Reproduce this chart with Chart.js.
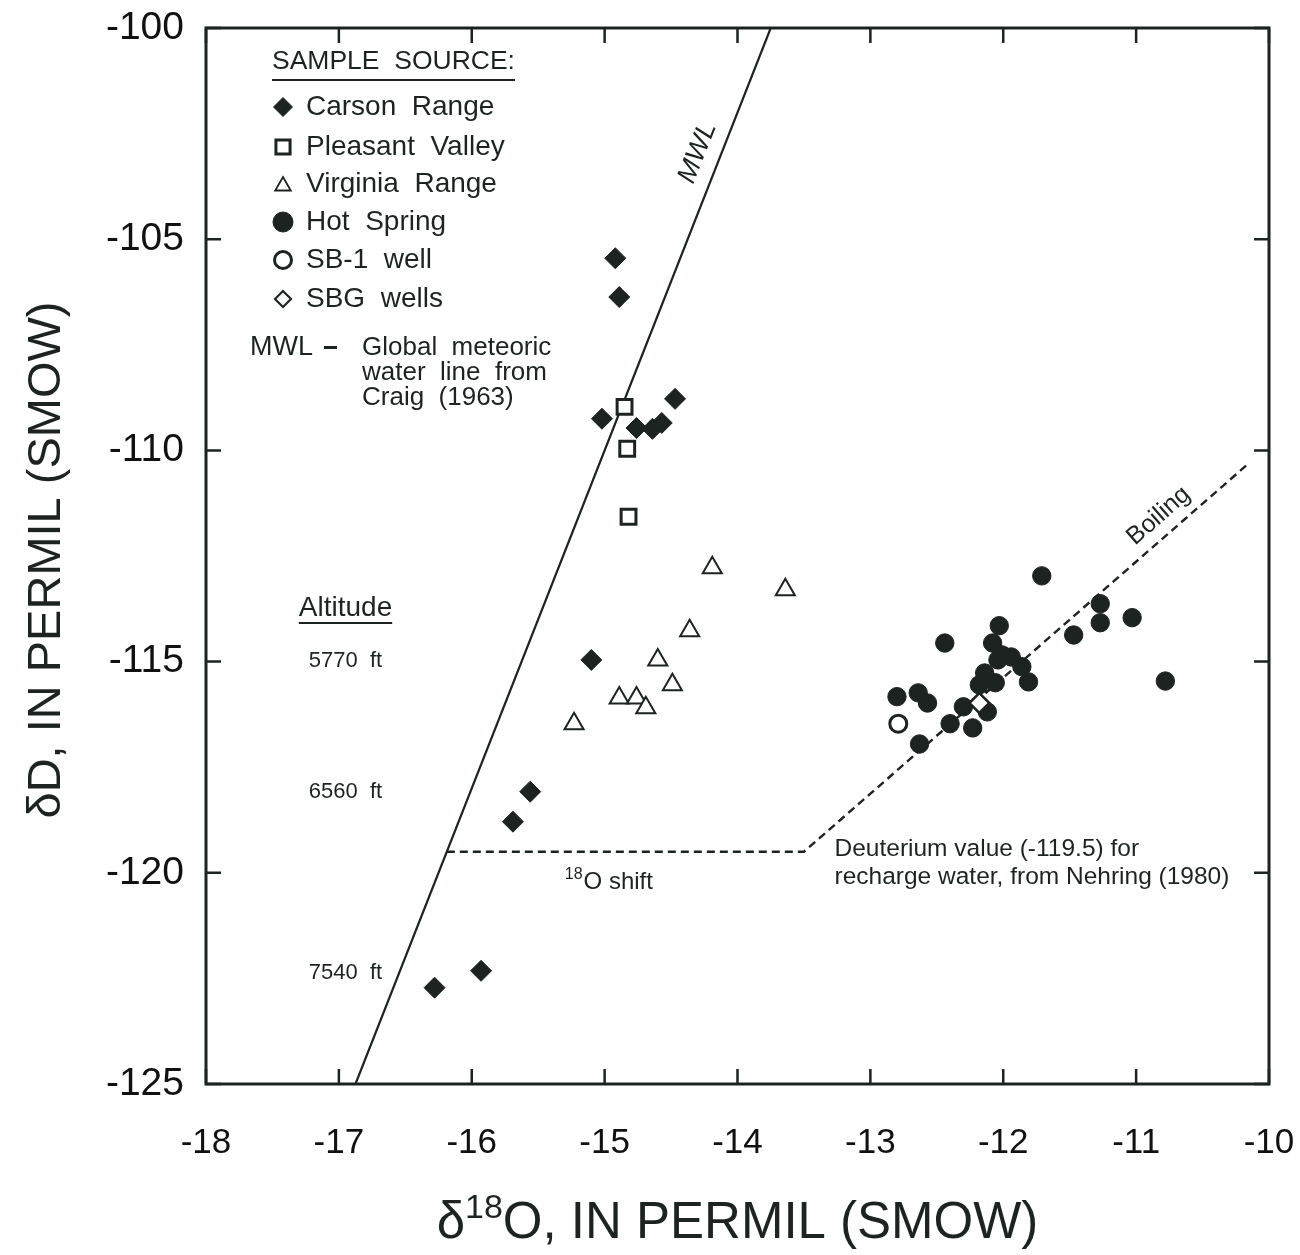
<!DOCTYPE html>
<html>
<head>
<meta charset="utf-8">
<title>Stable isotopes, Steamboat area</title>
<script src="https://cdn.jsdelivr.net/npm/chart.js@4.4.0/dist/chart.umd.min.js"></script>
<style>
  html, body { margin: 0; padding: 0; background: #fff; }
  canvas { display: block; }
</style>
</head>
<body>
<canvas id="isotopeChart" width="1300" height="1255"></canvas>
<script>
// delta-18O (x) and delta-D (y), permil vs SMOW
const carsonX = [-14.92, -14.89, -15.02, -14.76, -14.64, -14.57, -14.47, -15.10, -15.56, -15.69, -16.28, -15.93];
const carsonY = [-105.45, -106.37, -109.25, -109.47, -109.49, -109.35, -108.78, -114.96, -118.08, -118.79, -122.72, -122.32];

const pleasantX = [-14.85, -14.83, -14.82];
const pleasantY = [-108.97, -109.96, -111.57];

const virginiaX = [-14.19, -13.64, -14.36, -14.60, -14.49, -14.89, -14.76, -14.69, -15.23];
const virginiaY = [-112.78, -113.30, -114.27, -114.96, -115.55, -115.86, -115.86, -116.09, -116.47];

const hotX = [-11.71, -11.27, -11.27, -11.03, -11.47, -12.44, -12.03, -12.08, -12.01, -11.94, -12.04,
              -11.86, -11.81, -12.14, -12.18, -12.06, -10.78, -12.80, -12.64, -12.57, -12.30, -12.12,
              -12.40, -12.23, -12.63];
const hotY = [-112.97, -113.63, -114.08, -113.96, -114.37, -114.56, -114.15, -114.56, -114.84, -114.89, -114.96,
              -115.12, -115.48, -115.27, -115.55, -115.50, -115.46, -115.83, -115.74, -115.98, -116.07, -116.19,
              -116.47, -116.57, -116.95];

const sb1X = [-12.79];
const sb1Y = [-116.47];

const sbgX = [-12.18];
const sbgY = [-115.98];

// Craig (1963): dD = 8 * d18O + 10
const mwlX = [-16.875, -13.75];
const mwlY = [-125, -100];

// recharge deuterium (-119.5), 18O shift, then boiling trend
const shiftX = [-16.1875, -13.5, -10.15];
const shiftY = [-119.5, -119.5, -110.3];

const xMin = -18, xMax = -10, xStep = 1;
const yMin = -125, yMax = -100, yStep = 5;

const INK = '#1d2320';
const FONT = "'Liberation Sans', Arial, Helvetica, sans-serif";

function pairs(xs, ys) {
    return xs.map((x, i) => ({ x: x, y: ys[i] }));
}

// legend rows: style for the marker and the label
const legendRows = [
    { label: 'Carson Range',     style: 'rectRot',  radius: 9.5, fill: INK,    width: 1 },
    { label: 'Pleasant Valley',  style: 'rect',     radius: 10,  fill: '#fff', width: 3 },
    { label: 'Virginia Range',   style: 'triangle', radius: 9,   fill: '#fff', width: 1.8 },
    { label: 'Hot Spring',       style: 'circle',   radius: 10,  fill: INK,    width: 1 },
    { label: 'SB-1 well',        style: 'circle',   radius: 8.5, fill: '#fff', width: 3 },
    { label: 'SBG wells',        style: 'rectRot',  radius: 8,   fill: '#fff', width: 2.2 }
];
const legendOffsets = [79, 119, 156, 194, 232, 271];

function text(ctx, str, x, y, font, align) {
    ctx.font = font;
    ctx.textAlign = align || 'left';
    ctx.textBaseline = 'middle';
    ctx.fillText(str, x, y);
}

// frame, inward ticks, notes, legend and axis titles
const decorations = {
    id: 'decorations',
    afterDraw(chart) {
        const ctx = chart.ctx;
        const xs = chart.scales.x, ys = chart.scales.y;
        const { left, right, top, bottom } = chart.chartArea;
        const px = v => xs.getPixelForValue(v);
        const py = v => ys.getPixelForValue(v);

        ctx.save();
        ctx.strokeStyle = INK;
        ctx.fillStyle = INK;

        // box and ticks on all four sides
        ctx.lineWidth = 3;
        ctx.strokeRect(left, top, right - left, bottom - top);
        ctx.lineWidth = 2.5;
        const T = 15;
        ctx.beginPath();
        xs.ticks.forEach(t => {
            const p = px(t.value);
            ctx.moveTo(p, bottom); ctx.lineTo(p, bottom - T);
            ctx.moveTo(p, top); ctx.lineTo(p, top + T);
        });
        ys.ticks.forEach(t => {
            const p = py(t.value);
            ctx.moveTo(left, p); ctx.lineTo(left + T, p);
            ctx.moveTo(right, p); ctx.lineTo(right - T, p);
        });
        ctx.stroke();

        // line labels
        ctx.save();
        ctx.translate(px(-14.3), py(-102.95));
        ctx.rotate(-68.4 * Math.PI / 180);
        text(ctx, 'MWL', 0, 0, 'italic 27px ' + FONT, 'center');
        ctx.restore();

        ctx.save();
        ctx.translate(px(-10.83), py(-111.55));
        ctx.rotate(-41.4 * Math.PI / 180);
        text(ctx, 'Boiling', 0, 0, '25px ' + FONT, 'center');
        ctx.restore();

        // 18O shift note
        ctx.font = '16px ' + FONT;
        ctx.textAlign = 'left';
        ctx.textBaseline = 'alphabetic';
        const sx = px(-15.3), sy = py(-119.95) + 18;
        ctx.fillText('18', sx, sy - 10);
        const sw = ctx.measureText('18').width;
        ctx.font = '24px ' + FONT;
        ctx.fillText('O shift', sx + sw + 1, sy);

        text(ctx, 'Deuterium value (-119.5) for', px(-13.27), py(-119.45), '24.5px ' + FONT);
        text(ctx, 'recharge water, from Nehring (1980)', px(-13.27), py(-120.1), '24.5px ' + FONT);

        // altitude scale
        const ax = px(-16.95);
        text(ctx, 'Altitude', ax, py(-113.73), '28px ' + FONT, 'center');
        ctx.font = '28px ' + FONT;
        const aw = ctx.measureText('Altitude').width;
        ctx.lineWidth = 2;
        ctx.beginPath();
        ctx.moveTo(ax - aw / 2, py(-113.73) + 15);
        ctx.lineTo(ax + aw / 2, py(-113.73) + 15);
        ctx.stroke();
        text(ctx, '5770  ft', ax, py(-114.98), '22px ' + FONT, 'center');
        text(ctx, '6560  ft', ax, py(-118.08), '22px ' + FONT, 'center');
        text(ctx, '7540  ft', ax, py(-122.37), '22px ' + FONT, 'center');

        // legend box (no border)
        const lx = left + 77;
        text(ctx, 'SAMPLE  SOURCE:', left + 66, top + 34, '26.5px ' + FONT);
        ctx.font = '26.5px ' + FONT;
        const hw = ctx.measureText('SAMPLE  SOURCE:').width;
        ctx.lineWidth = 2;
        ctx.beginPath();
        ctx.moveTo(left + 66, top + 52);
        ctx.lineTo(left + 66 + hw, top + 52);
        ctx.stroke();

        legendRows.forEach((row, i) => {
            const y = top + legendOffsets[i];
            ctx.fillStyle = row.fill;
            ctx.strokeStyle = INK;
            ctx.lineWidth = row.width;
            Chart.helpers.drawPoint(ctx, {
                pointStyle: row.style, radius: row.radius, rotation: 0, borderWidth: row.width
            }, lx, y + (row.style === 'triangle' ? 2 : 0));
            ctx.fillStyle = INK;
            text(ctx, row.label.replace(' ', '  '), left + 100, y, '28px ' + FONT);
        });

        text(ctx, 'MWL', left + 44, top + 320, '27px ' + FONT);
        ctx.fillRect(left + 118, top + 318, 13, 3);
        text(ctx, 'Global  meteoric', left + 156, top + 320, '26px ' + FONT);
        text(ctx, 'water  line  from', left + 156, top + 345, '26px ' + FONT);
        text(ctx, 'Craig  (1963)', left + 156, top + 370, '26px ' + FONT);

        // axis titles
        ctx.save();
        ctx.translate(47, (top + bottom) / 2 + 4);
        ctx.rotate(-Math.PI / 2);
        text(ctx, 'δD, IN PERMIL (SMOW)', 0, 0, '47px ' + FONT, 'center');
        ctx.restore();

        ctx.textBaseline = 'alphabetic';
        ctx.textAlign = 'left';
        const big = '51px ' + FONT, small = '34px ' + FONT;
        ctx.font = big;
        const w1 = ctx.measureText('δ').width;
        const w3 = ctx.measureText('O, IN PERMIL (SMOW)').width;
        ctx.font = small;
        const w2 = ctx.measureText('18').width;
        let tx = (left + right) / 2 - (w1 + w2 + w3) / 2;
        const ty = 1238;
        ctx.font = big; ctx.fillText('δ', tx, ty); tx += w1;
        ctx.font = small; ctx.fillText('18', tx, ty - 20); tx += w2;
        ctx.font = big; ctx.fillText('O, IN PERMIL (SMOW)', tx, ty);

        ctx.restore();
    }
};

const ctx = document.getElementById('isotopeChart').getContext('2d');
new Chart(ctx, {
    type: 'scatter',
    data: {
        datasets: [
            {
                label: 'SBG wells',
                data: pairs(sbgX, sbgY),
                pointStyle: 'rectRot',
                pointRadius: 10,
                backgroundColor: '#fff',
                borderColor: INK,
                borderWidth: 2.5,
                order: 0
            },
            {
                label: 'SB-1 well',
                data: pairs(sb1X, sb1Y),
                pointStyle: 'circle',
                pointRadius: 8.5,
                backgroundColor: '#fff',
                borderColor: INK,
                borderWidth: 3,
                order: 1
            },
            {
                label: 'Hot Spring',
                data: pairs(hotX, hotY),
                pointStyle: 'circle',
                pointRadius: 9.2,
                backgroundColor: INK,
                borderColor: INK,
                borderWidth: 1,
                order: 2
            },
            {
                label: 'Virginia Range',
                data: pairs(virginiaX, virginiaY),
                pointStyle: 'triangle',
                pointRadius: 11,
                backgroundColor: '#fff',
                borderColor: INK,
                borderWidth: 2,
                order: 3
            },
            {
                label: 'Pleasant Valley',
                data: pairs(pleasantX, pleasantY),
                pointStyle: 'rect',
                pointRadius: 10.5,
                backgroundColor: '#fff',
                borderColor: INK,
                borderWidth: 3,
                order: 4
            },
            {
                label: 'Carson Range',
                data: pairs(carsonX, carsonY),
                pointStyle: 'rectRot',
                pointRadius: 10.5,
                backgroundColor: INK,
                borderColor: INK,
                borderWidth: 1,
                order: 5
            },
            {
                label: 'MWL',
                data: pairs(mwlX, mwlY),
                showLine: true,
                pointRadius: 0,
                borderColor: INK,
                borderWidth: 2.2,
                order: 6
            },
            {
                label: 'Shift and boiling',
                data: pairs(shiftX, shiftY),
                showLine: true,
                pointRadius: 0,
                borderColor: INK,
                borderWidth: 2.4,
                borderDash: [8, 5],
                order: 7
            }
        ]
    },
    options: {
        responsive: false,
        animation: false,
        devicePixelRatio: 1,
        layout: { padding: { top: 28, right: 31, left: 0, bottom: 0 } },
        plugins: {
            legend: { display: false },
            tooltip: { enabled: false }
        },
        scales: {
            x: {
                type: 'linear',
                min: xMin,
                max: xMax,
                grid: { display: false, drawTicks: false },
                border: { display: false },
                ticks: {
                    stepSize: xStep,
                    padding: 38,
                    color: '#111',
                    font: { family: FONT, size: 35 }
                },
                afterFit(scale) {
                    scale.height = 171;
                    scale.paddingLeft = 0;
                    scale.paddingRight = 0;
                }
            },
            y: {
                type: 'linear',
                min: yMin,
                max: yMax,
                grid: { display: false, drawTicks: false },
                border: { display: false },
                ticks: {
                    stepSize: yStep,
                    padding: 22,
                    color: '#111',
                    font: { family: FONT, size: 39 }
                },
                afterFit(scale) {
                    scale.width = 206;
                    scale.paddingTop = 0;
                    scale.paddingBottom = 0;
                }
            }
        }
    },
    plugins: [decorations]
});
</script>
</body>
</html>
